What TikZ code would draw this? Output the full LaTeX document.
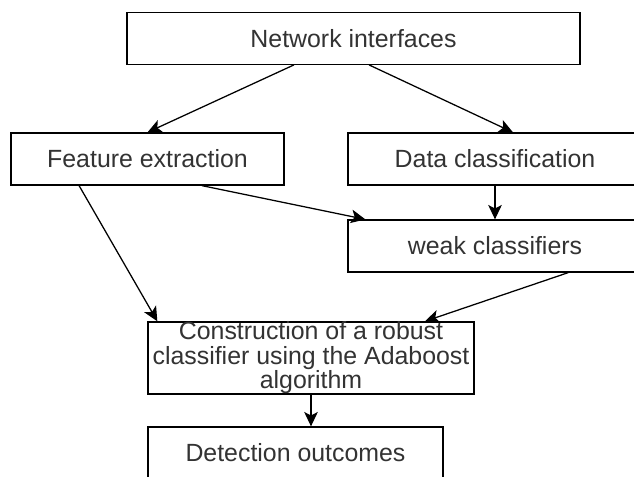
\documentclass[tikz,border=0pt]{standalone}
\usepackage{fontspec}
\setmainfont{Liberation Sans}
\usetikzlibrary{arrows.meta}

\begin{document}
\begin{tikzpicture}[x=0.025cm,y=-0.025cm,
	box/.style={draw=black, line width=0.9pt, inner sep=0pt, align=center,
		text=black!80, font=\fontsize{17.7}{17.4}\selectfont},
	arr/.style={draw=black, line width=0.9pt,
		-{Stealth[length=0.36cm,width=0.34cm,inset=0.09cm]}}]
				\useasboundingbox (0,0) rectangle (634,477);
				\clip (0,0) rectangle (634,477);
				\fill [white] (0,0) rectangle (634,477);
				\node [box, minimum width=11.325cm, minimum height=1.29cm] (ni) at (353.5,38.5) {Network interfaces};
				\node [box, minimum width=6.825cm, minimum height=1.3cm] (fe) at (147.5,159) {Feature extraction};
				\node [box, minimum width=7.35cm, minimum height=1.3cm] (dc) at (495,159) {Data classification};
				\node [box, minimum width=7.35cm, minimum height=1.3cm] (wk) at (495,246) {weak classifiers};
				\node [box, minimum width=8.15cm, minimum height=1.75cm] (co) at (311,358) {Construction of a robust\\classifier using the Adaboost\\algorithm};
				\node [box, minimum width=7.375cm, minimum height=1.3cm] (de) at (295.5,453) {Detection outcomes};
				\draw [arr] ([xshift=-1.49cm]ni.south) -- (fe.north);
				\draw [arr] ([xshift=0.39cm]ni.south) -- ([xshift=0.45cm]dc.north);
				\draw [arr] (dc.south) -- (wk.north);
				\draw [arr] ([xshift=1.36cm]fe.south) -- ([xshift=0.45cm]wk.north west);
				\draw [arr] ([xshift=-1.71cm]fe.south) -- ([xshift=0.25cm]co.north west);
				\draw [arr] ([xshift=1.83cm]wk.south) -- ([xshift=2.85cm]co.north);
				\draw [arr] (co.south) -- (co.south |- de.north);
\end{tikzpicture}
\end{document}
